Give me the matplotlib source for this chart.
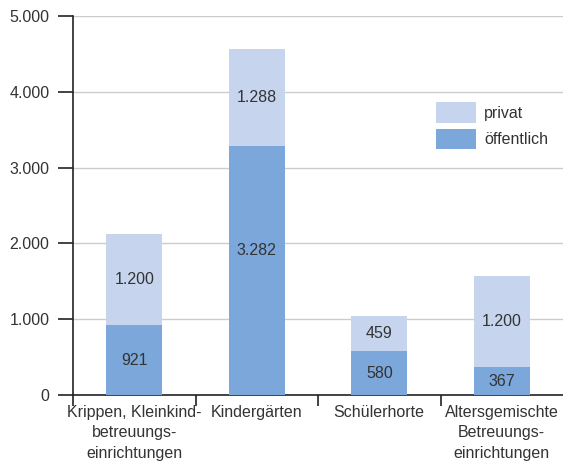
import numpy as np
import matplotlib.pyplot as plt
from matplotlib.ticker import FuncFormatter

categories = ['Krippen, Kleinkind-\nbetreuungs-\neinrichtungen', 'Kindergärten',
              'Schülerhorte', 'Altersgemischte\nBetreuungs-\neinrichtungen']
oeffentlich = [921, 3282, 580, 367]
privat = [1200, 1288, 459, 1200]
yticks = [0, 1000, 2000, 3000, 4000, 5000]

plt.rcParams['font.family'] = ['Liberation Sans Narrow', 'Liberation Sans', 'DejaVu Sans']
txt = '#333333'
c_oeff = '#7ba7da'
c_priv = '#c6d4ee'
fs = 11.5

fig = plt.figure(figsize=(5.63, 4.72), dpi=100)
ax = fig.add_axes([0.1297, 0.1631, 0.8703, 0.8030])

x = np.arange(len(categories))
w = 0.46
ax.bar(x, oeffentlich, w, color=c_oeff, label='öffentlich', zorder=3)
ax.bar(x, privat, w, bottom=oeffentlich, color=c_priv, label='privat', zorder=3)

def de(v):
    return f'{v:,}'.replace(',', '.')

for i in range(len(x)):
    yo = oeffentlich[i] / 2
    if i == 1:
        yo = 1900
    ax.text(x[i], yo, de(oeffentlich[i]), ha='center', va='center', fontsize=fs, color=txt, zorder=4)
    ax.text(x[i], oeffentlich[i] + privat[i] / 2, de(privat[i]), ha='center', va='center',
            fontsize=fs, color=txt, zorder=4)

ax.set_xlim(-0.5, 3.5)
ax.set_ylim(0, 5000)
ax.set_yticks(yticks)
ax.yaxis.set_major_formatter(FuncFormatter(lambda v, p: de(int(v))))
ax.set_xticks(x)
ax.set_xticklabels(categories, fontsize=fs, color=txt, linespacing=1.45)
ax.set_xticks([-0.5, 0.5, 1.5, 2.5], minor=True)
ax.tick_params(axis='x', which='major', length=0, pad=7)
ax.tick_params(axis='x', which='minor', length=8, width=1.2, color='#222222', direction='out')
ax.tick_params(axis='y', length=11, width=1.2, color='#222222', labelsize=fs, labelcolor=txt, pad=6)

ax.grid(axis='y', color='#cccccc', linewidth=1, zorder=0)
for s in ['top', 'right']:
    ax.spines[s].set_visible(False)
for s in ['left', 'bottom']:
    ax.spines[s].set_linewidth(1.2)
    ax.spines[s].set_color('#222222')

h, l = ax.get_legend_handles_labels()
leg = ax.legend(h[::-1], l[::-1], loc='upper left', bbox_to_anchor=(0.74, 0.772), frameon=False,
                fontsize=fs, handlelength=2.5, handleheight=1.6, handletextpad=0.55,
                labelspacing=0.35, borderaxespad=0, borderpad=0)
for t in leg.get_texts():
    t.set_color(txt)

fig.savefig('out.png', dpi=100)
